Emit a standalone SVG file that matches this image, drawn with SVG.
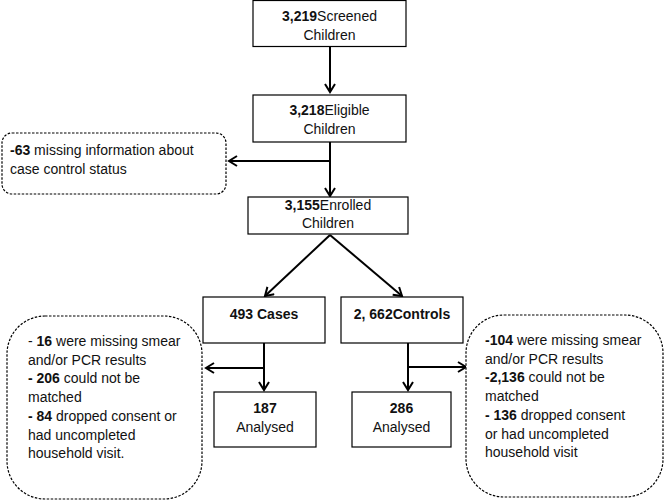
<svg xmlns="http://www.w3.org/2000/svg" width="664" height="500" viewBox="0 0 664 500">
<defs>
<marker id="ah" markerWidth="12" markerHeight="12" refX="9" refY="6" orient="auto" markerUnits="userSpaceOnUse">
<path d="M1,1 L9,6 L1,11" fill="none" stroke="#000" stroke-width="2"/>
</marker>
<style>
.box{fill:#fff;stroke:#000;stroke-width:1.2}
.dbox{fill:#fff;stroke:#000;stroke-width:1.2;stroke-dasharray:2.5,1.5}
.c{fill:none;stroke:#000;stroke-width:2}
text{font-family:"Liberation Sans",Arial,sans-serif;font-size:14px;fill:#111}
.m{text-anchor:middle}
.b{font-weight:bold}
</style>
</defs>
<rect width="664" height="500" fill="#fff"/>
<g id="connectors">
<line class="c" x1="330" y1="46" x2="330" y2="92" marker-end="url(#ah)"/>
<line class="c" x1="330" y1="142" x2="330" y2="196" marker-end="url(#ah)"/>
<line class="c" x1="331" y1="161" x2="229" y2="161" marker-end="url(#ah)"/>
<line class="c" x1="330" y1="235" x2="265" y2="296" marker-end="url(#ah)"/>
<line class="c" x1="330" y1="235" x2="402" y2="296" marker-end="url(#ah)"/>
<line class="c" x1="264" y1="343" x2="264" y2="390" marker-end="url(#ah)"/>
<line class="c" x1="265" y1="368" x2="206" y2="368" marker-end="url(#ah)"/>
<line class="c" x1="408" y1="343" x2="408" y2="390" marker-end="url(#ah)"/>
<line class="c" x1="407" y1="367" x2="466" y2="367" marker-end="url(#ah)"/>
</g>
<g id="screened">
<rect class="box" x="253" y="0.5" width="153" height="46"/>
<text class="m" x="329.5" y="21"><tspan class="b">3,219</tspan>Screened</text>
<text class="m" x="329.5" y="40">Children</text>
</g>
<g id="eligible">
<rect class="box" x="253" y="95" width="153" height="47"/>
<text class="m" x="329.5" y="115"><tspan class="b">3,218</tspan>Eligible</text>
<text class="m" x="329.5" y="134">Children</text>
</g>
<g id="missing63">
<rect class="dbox" x="2" y="133" width="224" height="61" rx="10"/>
<text x="10" y="155"><tspan class="b">-63</tspan> missing information about</text>
<text x="10" y="174">case control status</text>
</g>
<g id="enrolled">
<rect class="box" x="248" y="197" width="160" height="37"/>
<text class="m" x="328" y="210"><tspan class="b">3,155</tspan>Enrolled</text>
<text class="m" x="328" y="228">Children</text>
</g>
<g id="cases">
<rect class="box" x="203" y="297" width="122" height="46"/>
<text class="m b" x="264" y="319">493 Cases</text>
</g>
<g id="controls">
<rect class="box" x="341" y="297" width="122" height="46"/>
<text class="m b" x="402" y="319">2, 662Controls</text>
</g>
<g id="cases-excluded">
<rect class="dbox" x="7" y="316" width="195" height="183" rx="38"/>
<text x="28" y="346">- <tspan class="b">16</tspan> were missing smear</text>
<text x="28" y="365">and/or PCR results</text>
<text x="28" y="383"><tspan class="b">- 206</tspan> could not be</text>
<text x="28" y="402">matched</text>
<text x="28" y="421"><tspan class="b">- 84</tspan> dropped consent or</text>
<text x="28" y="440">had uncompleted</text>
<text x="28" y="458">household visit.</text>
</g>
<g id="cases-analysed">
<rect class="box" x="214" y="392" width="102" height="55"/>
<text class="m b" x="265" y="413">187</text>
<text class="m" x="265" y="432">Analysed</text>
</g>
<g id="controls-excluded">
<rect class="dbox" x="466" y="315" width="197" height="182" rx="38"/>
<text x="485" y="345"><tspan class="b">-104</tspan> were missing smear</text>
<text x="485" y="364">and/or PCR results</text>
<text x="485" y="382"><tspan class="b">-2,136</tspan> could not be</text>
<text x="485" y="401">matched</text>
<text x="485" y="420"><tspan class="b">- 136</tspan> dropped consent</text>
<text x="485" y="439">or had uncompleted</text>
<text x="485" y="457">household visit</text>
</g>
<g id="controls-analysed">
<rect class="box" x="352" y="392" width="99" height="55"/>
<text class="m b" x="401.5" y="413">286</text>
<text class="m" x="401.5" y="432">Analysed</text>
</g>
</svg>
